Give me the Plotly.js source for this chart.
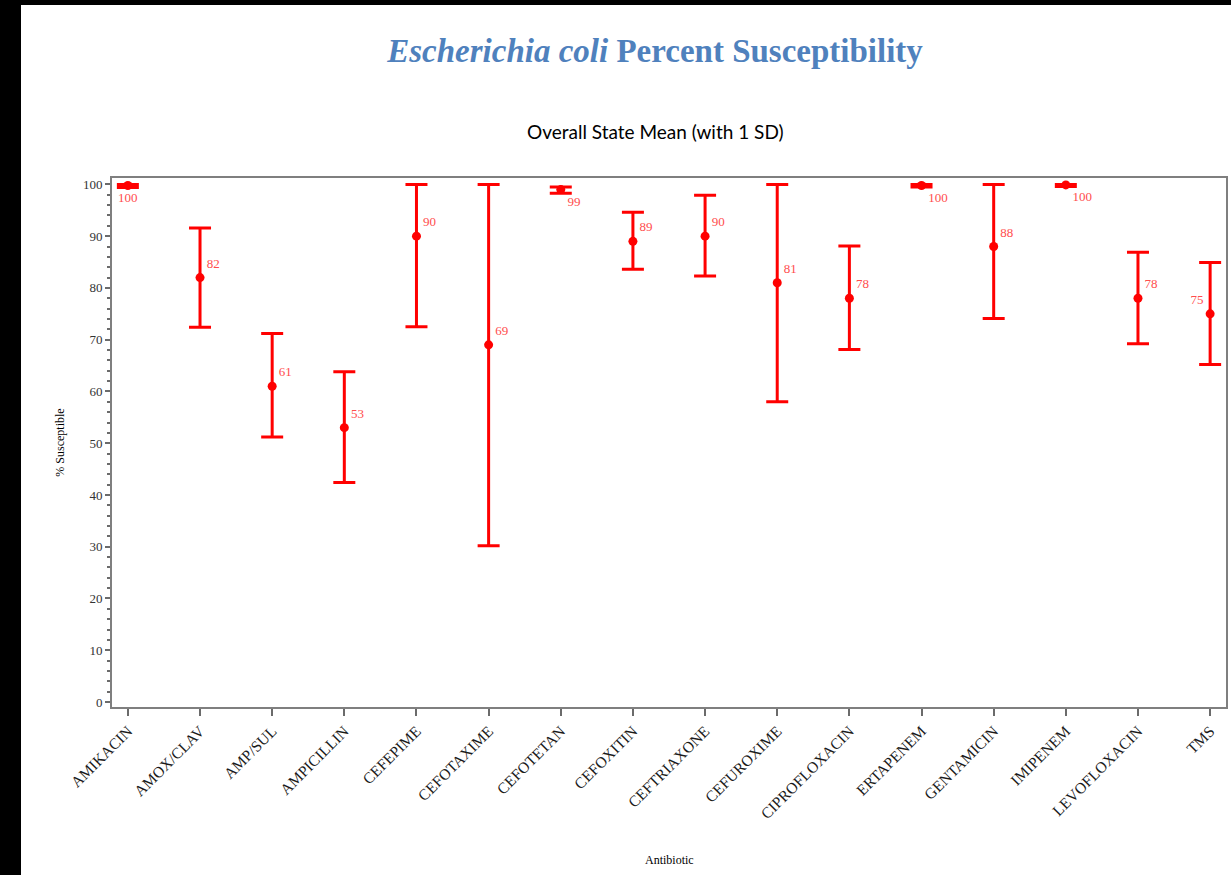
<!DOCTYPE html>
<html>
<head>
<meta charset="utf-8">
<script src="https://cdn.plot.ly/plotly-3.0.1.min.js"></script>
<style>
  html, body { margin: 0; padding: 0; background: #000; width: 1231px; height: 875px; overflow: hidden; }
  #chart { position: absolute; left: 21px; top: 5px; width: 1210px; height: 870px; background: #fff; }
</style>
</head>
<body>
<div id="chart"></div>
<script>
// ---- data ----
const categories = ["AMIKACIN", "AMOX/CLAV", "AMP/SUL", "AMPICILLIN", "CEFEPIME", "CEFOTAXIME",
  "CEFOTETAN", "CEFOXITIN", "CEFTRIAXONE", "CEFUROXIME", "CIPROFLOXACIN", "ERTAPENEM",
  "GENTAMICIN", "IMIPENEM", "LEVOFLOXACIN", "TMS"];
const meanValues  = [99.8, 82.0, 61.0, 53.0, 90.0, 69.0, 99.0, 89.0, 90.0, 81.0, 78.0, 99.8, 88.0, 99.9, 78.0, 75.0];
const upperValues = [100, 91.6, 71.2, 63.8, 100, 100, 99.5, 94.6, 97.9, 100, 88.1, 100, 100, 100, 86.9, 84.9];
const lowerValues = [99.4, 72.4, 51.2, 42.4, 72.5, 30.2, 98.3, 83.6, 82.3, 58.0, 68.1, 99.5, 74.1, 99.6, 69.2, 65.2];
const labelValues = ["100", "82", "61", "53", "90", "69", "99", "89", "90", "81", "78", "100", "88", "100", "78", "75"];
const labelPlacement = ["bottom center", "top right", "top right", "top right", "top right", "top right",
  "bottom right", "top right", "top right", "top right", "top right", "bottom right",
  "top right", "bottom right", "top right", "top left"];

const errPlus  = upperValues.map((u, i) => u - meanValues[i]);
const errMinus = lowerValues.map((l, i) => meanValues[i] - l);

const red = "#ff0000";
const serif = "Liberation Serif, Times New Roman, serif";

const trace = {
  type: "scatter",
  mode: "markers+text",
  x: categories,
  y: meanValues,
  text: labelValues,
  textposition: labelPlacement,
  textfont: { family: serif, size: 13, color: "#ff4d4d" },
  marker: { color: red, size: 9 },
  error_y: {
    type: "data",
    symmetric: false,
    array: errPlus,
    arrayminus: errMinus,
    color: red,
    thickness: 3,
    width: 11
  },
  cliponaxis: false,
  hoverinfo: "x+y"
};

const layout = {
  width: 1210,
  height: 870,
  margin: { l: 91, r: 5, t: 173, b: 168 },
  paper_bgcolor: "#ffffff",
  plot_bgcolor: "#ffffff",
  showlegend: false,
  title: {
    text: "<i>Escherichia coli</i> Percent Susceptibility",
    font: { family: "Liberation Serif, serif", size: 33, color: "#4f81bd", weight: "bold" },
    x: 0.524,
    xanchor: "center",
    xref: "container",
    y: 0.948,
    yanchor: "middle",
    yref: "container"
  },
  annotations: [{
    text: "Overall State Mean (with 1 SD)",
    xref: "paper", yref: "paper",
    x: 0.488, y: 1.0,
    xanchor: "center", yanchor: "middle",
    yshift: 47,
    showarrow: false,
    font: { family: "Lato, Open Sans, sans-serif", size: 19, color: "#000" }
  }, {
    text: "Antibiotic",
    xref: "paper", yref: "paper",
    x: 0.5, y: -0.289,
    xanchor: "center", yanchor: "middle",
    showarrow: false,
    font: { family: serif, size: 12, color: "#000" }
  }],
  xaxis: {
    type: "category",
    range: [-0.22, 15.22],
    showgrid: false,
    zeroline: false,
    showline: true,
    linecolor: "#7f7f7f",
    linewidth: 2,
    mirror: true,
    ticks: "outside",
    ticklen: 7,
    tickwidth: 2,
    tickcolor: "#6b6b6b",
    tickangle: -45,
    tickfont: { family: serif, size: 15.5, color: "#1a1a1a" }
  },
  yaxis: {
    range: [-0.97, 101.24],
    showgrid: false,
    zeroline: false,
    showline: true,
    linecolor: "#7f7f7f",
    linewidth: 2,
    mirror: true,
    ticks: "outside",
    ticklen: 5,
    tickwidth: 1.5,
    tickcolor: "#6b6b6b",
    tickvals: [0, 10, 20, 30, 40, 50, 60, 70, 80, 90, 100],
    minor: { dtick: 2, ticks: "outside", ticklen: 3, tickcolor: "#6b6b6b", tickwidth: 1.5 },
    tickfont: { family: serif, size: 13, color: "#333" },
    title: { text: "% Susceptible", font: { family: serif, size: 12, color: "#000" }, standoff: 16 }
  }
};

Plotly.newPlot("chart", [trace], layout, { displayModeBar: false, staticPlot: false });
</script>
</body>
</html>
